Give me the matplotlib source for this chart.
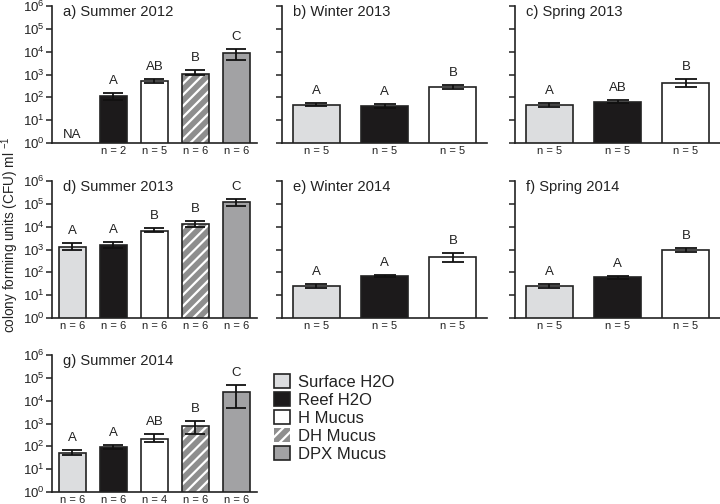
import numpy as np
import matplotlib
matplotlib.use("Agg")
import matplotlib.pyplot as plt
from matplotlib.patches import Patch

plt.rcParams['font.family'] = ['Liberation Sans', 'DejaVu Sans']
plt.rcParams['mathtext.fontset'] = 'custom'
plt.rcParams['mathtext.rm'] = 'Liberation Sans'
plt.rcParams['mathtext.it'] = 'Liberation Sans'
plt.rcParams['hatch.linewidth'] = 1.6
plt.rcParams['hatch.color'] = 'white'

# groups and colours
groups = ['Surface H2O', 'Reef H2O', 'H Mucus', 'DH Mucus', 'DPX Mucus']
colors = ['#dcdddf', '#1c1a1b', '#ffffff', '#8e8e8e', '#a2a2a4']

# a) Summer 2012 (no surface sample)
a_mean = [np.nan, 110, 500, 1080, 8500]
a_lo = [np.nan, 75, 420, 930, 4400]
a_hi = [np.nan, 160, 620, 1500, 12600]
a_let = ['', 'A', 'AB', 'B', 'C']
a_n = ['', 'n = 2', 'n = 5', 'n = 6', 'n = 6']

# b) Winter 2013
b_mean = [47, 40, 280]
b_lo = [40, 33, 230]
b_hi = [58, 49, 350]
b_let = ['A', 'A', 'B']
b_n = ['n = 5', 'n = 5', 'n = 5']

# c) Spring 2013
c_mean = [46, 65, 410]
c_lo = [38, 55, 270]
c_hi = [55, 78, 630]
c_let = ['A', 'AB', 'B']
c_n = ['n = 5', 'n = 5', 'n = 5']

# d) Summer 2013
d_mean = [1300, 1600, 6600, 13000, 118000]
d_lo = [1000, 1200, 5700, 9500, 80000]
d_hi = [1840, 2180, 8500, 17000, 165000]
d_let = ['A', 'A', 'B', 'B', 'C']
d_n = ['n = 6', 'n = 6', 'n = 6', 'n = 6', 'n = 6']

# e) Winter 2014
e_mean = [24, 68, 490]
e_lo = [20, 62, 277]
e_hi = [31, 75, 710]
e_let = ['A', 'A', 'B']
e_n = ['n = 5', 'n = 5', 'n = 5']

# f) Spring 2014
f_mean = [25, 61, 940]
f_lo = [21, 52, 750]
f_hi = [31, 72, 1180]
f_let = ['A', 'A', 'B']
f_n = ['n = 5', 'n = 5', 'n = 5']

# g) Summer 2014
g_mean = [52, 95, 220, 760, 24600]
g_lo = [40, 80, 150, 340, 5000]
g_hi = [72, 112, 330, 1300, 49000]
g_let = ['A', 'A', 'AB', 'B', 'C']
g_n = ['n = 6', 'n = 6', 'n = 4', 'n = 6', 'n = 6']

panels = [
    ('a) Summer 2012', a_mean, a_lo, a_hi, a_let, a_n, 0, 0),
    ('b) Winter 2013', b_mean, b_lo, b_hi, b_let, b_n, 0, 1),
    ('c) Spring 2013', c_mean, c_lo, c_hi, c_let, c_n, 0, 2),
    ('d) Summer 2013', d_mean, d_lo, d_hi, d_let, d_n, 1, 0),
    ('e) Winter 2014', e_mean, e_lo, e_hi, e_let, e_n, 1, 1),
    ('f) Spring 2014', f_mean, f_lo, f_hi, f_let, f_n, 1, 2),
    ('g) Summer 2014', g_mean, g_lo, g_hi, g_let, g_n, 2, 0),
]

W, H = 720, 504
fig = plt.figure(figsize=(7.2, 5.04), dpi=100)

col_left = [52, 282, 515]
row_top = [6, 181, 355]
ax_w, ax_h = 205, 137
ink = '#222222'


def draw_bar(ax, x, h, col, width):
    if col == colors[3]:
        ax.bar(x, h, width, color=col, edgecolor='white', hatch='///',
               linewidth=0, zorder=2)
        ax.bar(x, h, width, fill=False, edgecolor=ink, linewidth=1.2,
               zorder=3)
    else:
        ax.bar(x, h, width, color=col, edgecolor=ink, linewidth=1.2,
               zorder=2)


for title, mean, lo, hi, let, nlab, r, c in panels:
    ax = fig.add_axes([col_left[c] / W, 1 - (row_top[r] + ax_h) / H,
                       ax_w / W, ax_h / H])
    mean = np.array(mean, dtype=float)
    lo = np.array(lo, dtype=float)
    hi = np.array(hi, dtype=float)
    k = len(mean)
    x = np.arange(k)
    width = 0.66 if k == 5 else 0.69
    for i in range(k):
        if np.isnan(mean[i]):
            continue
        draw_bar(ax, x[i], mean[i], colors[i], width)
        ax.errorbar(x[i], mean[i],
                    yerr=[[mean[i] - lo[i]], [hi[i] - mean[i]]],
                    color='#111111', elinewidth=1.3, capsize=7 if k == 5 else 8,
                    capthick=1.3, zorder=4)
        ax.annotate(let[i], (x[i], hi[i]), xytext=(0, 6.5),
                    textcoords='offset points', ha='center', va='baseline',
                    fontsize=9.5, color=ink)
    if np.isnan(mean[0]):
        ax.text(0, 2.2, 'NA', ha='center', va='center', fontsize=9.5,
                color=ink)

    ax.set_yscale('log')
    ax.set_ylim(1, 1e6)
    ax.set_xlim(-0.5, k - 0.5)
    ax.set_yticks([10.0 ** p for p in range(7)])
    ax.minorticks_off()
    ax.set_xticks(x)
    ax.set_xticklabels(nlab, fontsize=8, color=ink)
    ax.tick_params(axis='x', length=0, pad=2.5)
    ax.tick_params(axis='y', length=4, width=1.1, labelsize=9.5, pad=1,
                   colors=ink)
    if c != 0:
        ax.set_yticklabels([])
    for s in ['top', 'right']:
        ax.spines[s].set_visible(False)
    for s in ['left', 'bottom']:
        ax.spines[s].set_linewidth(1.2)
        ax.spines[s].set_color(ink)
    ax.text(0.054, 0.955, title, transform=ax.transAxes, ha='left',
            va='center', fontsize=10.6, color=ink)

fig.text(10 / W, 1 - 235 / H, 'colony forming units (CFU) ml $^{-1}$',
         rotation=90, ha='center', va='center', fontsize=9.8, color=ink)

handles = []
for g, col in zip(groups, colors):
    if col == colors[3]:
        handles.append(Patch(facecolor=col, edgecolor='white', hatch='///',
                             linewidth=0))
    else:
        handles.append(Patch(facecolor=col, edgecolor=ink, linewidth=1.2))
leg = fig.legend(handles, groups, loc='upper left',
                 bbox_to_anchor=(274 / W, 1 - 374 / H), frameon=False,
                 fontsize=12, handlelength=0.95, handleheight=0.95,
                 handletextpad=0.5, labelspacing=0.12, borderpad=0,
                 borderaxespad=0)
for t in leg.get_texts():
    t.set_color(ink)

fig.savefig('out.png', dpi=100)
